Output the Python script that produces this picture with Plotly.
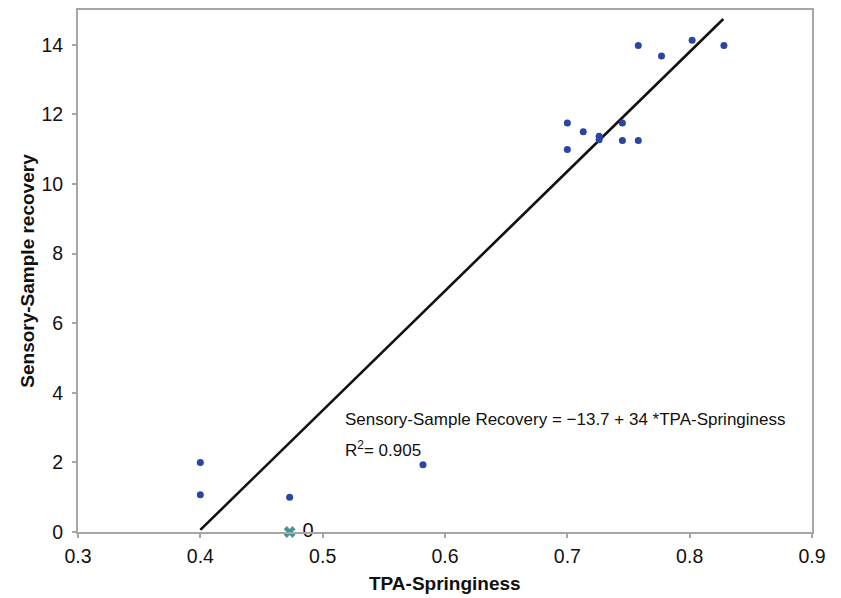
import plotly.graph_objects as go

# Data
springiness = [0.400, 0.400, 0.473, 0.582, 0.700, 0.700, 0.713, 0.726, 0.726,
               0.745, 0.745, 0.758, 0.758, 0.777, 0.802, 0.828]
recovery = [2.00, 1.07, 1.00, 1.93, 11.75, 10.99, 11.50, 11.37, 11.27,
            11.75, 11.25, 11.25, 13.98, 13.68, 14.13, 13.98]

zero_x = [0.473]
zero_y = [0.0]
zero_label = [" 0"]

fit_x = [0.400, 0.8275]
fit_y = [0.06, 14.74]

x_ticks = [0.3, 0.4, 0.5, 0.6, 0.7, 0.8, 0.9]
y_ticks = [0, 2, 4, 6, 8, 10, 12, 14]

FONT = "Liberation Sans, Arial, sans-serif"
AXIS_GRAY = "#a6a6a6"

fig = go.Figure()

fig.add_trace(go.Scatter(
    x=fit_x, y=fit_y, mode="lines",
    line=dict(color="#111111", width=2.6),
    showlegend=False, hoverinfo="skip"))

fig.add_trace(go.Scatter(
    x=springiness, y=recovery, mode="markers",
    marker=dict(color="#2c44a4", size=7),
    showlegend=False))

fig.add_trace(go.Scatter(
    x=zero_x, y=zero_y, mode="markers+text",
    marker=dict(symbol="x", color="#3b94a8", size=10,
                line=dict(color="#8a9a40", width=0.6)),
    text=zero_label, textposition="middle right",
    textfont=dict(family=FONT, size=20, color="#111111"),
    cliponaxis=False, showlegend=False))

fig.add_annotation(
    x=0.5165, y=3.22, xref="x", yref="y", xanchor="left", yanchor="middle",
    text="Sensory-Sample Recovery = \u221213.7 + 34 *TPA-Springiness",
    showarrow=False, font=dict(family=FONT, size=17, color="#111111"))
fig.add_annotation(
    x=0.5165, y=2.38, xref="x", yref="y", xanchor="left", yanchor="middle",
    text="R<sup>2</sup>= 0.905",
    showarrow=False, font=dict(family=FONT, size=17, color="#111111"))

# x-axis title placed as an annotation so its distance below the axis matches
fig.add_annotation(
    x=0.5, y=-0.098, xref="paper", yref="paper", xanchor="center", yanchor="middle",
    text="<b>TPA-Springiness</b>", showarrow=False,
    font=dict(family=FONT, size=19, color="#111111"))

axis_common = dict(
    showline=True, linecolor=AXIS_GRAY, linewidth=2, mirror=True,
    showgrid=False, zeroline=False, automargin=False,
    ticks="outside", ticklen=4, tickwidth=1.5, tickcolor=AXIS_GRAY,
    tickfont=dict(family=FONT, size=19.5, color="#111111"),
)

# The page body has an 8px margin, so the figure is offset to compensate.
fig.update_layout(
    width=825, height=590,
    paper_bgcolor="white", plot_bgcolor="white",
    margin=dict(l=70, r=21, t=2, b=66),
    font=dict(family=FONT),
    xaxis=dict(
        range=[0.3, 0.9], tickvals=x_ticks,
        ticktext=[f"{v:.1f}" for v in x_ticks],
        ticklabelstandoff=2,
        **axis_common),
    yaxis=dict(
        range=[0, 15], tickvals=y_ticks,
        title=dict(text="<b>Sensory-Sample recovery</b>", standoff=2,
                   font=dict(family=FONT, size=19, color="#111111")),
        ticklabelstandoff=5,
        **axis_common),
)

fig.write_html("out.html")
